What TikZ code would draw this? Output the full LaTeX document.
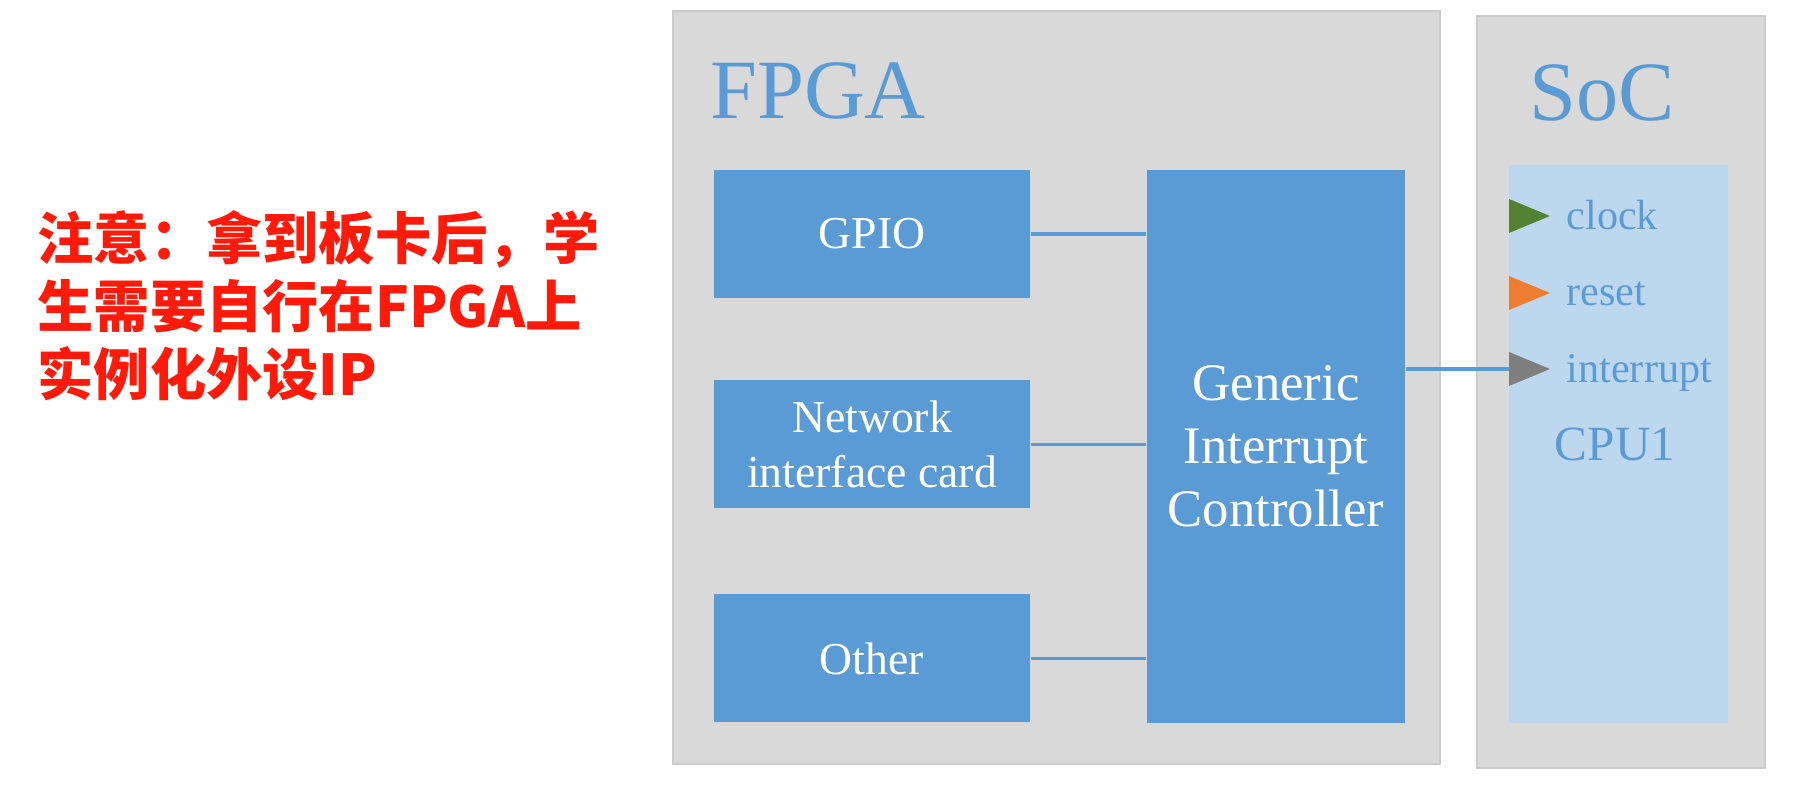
\documentclass[tikz,border=0pt]{standalone}
\usepackage{fontspec}
\setmainfont{Liberation Serif}
\newfontfamily\cjk{Noto Sans CJK SC}
\usetikzlibrary{positioning}

\definecolor{boxblue}{HTML}{5B9BD5}
\definecolor{cpublue}{HTML}{BDD7EE}
\definecolor{panelgray}{HTML}{D9D9D9}
\definecolor{paneledge}{HTML}{CBCBCB}
\definecolor{clkgreen}{HTML}{548235}
\definecolor{rstorange}{HTML}{ED7D31}
\definecolor{irqgray}{HTML}{7F7F7F}
\definecolor{notered}{HTML}{FF1A0A}

\begin{document}
\begin{tikzpicture}

\tikzset{panel/.style = {draw=paneledge, fill=panelgray, line width=0.8pt}}
\tikzset{block/.style = {fill=boxblue, text=white, align=center, minimum width=3.16cm, minimum height=1.28cm, font=\fontsize{13}{15.7}\selectfont}}
\tikzset{title/.style = {text=boxblue, anchor=base west, inner sep=0, font=\fontsize{24}{28}\selectfont}}
\tikzset{pinlabel/.style = {text=boxblue, anchor=base west, inner sep=0, font=\fontsize{12}{14}\selectfont}}
\tikzset{wire/.style = {draw=boxblue, line width=0.9pt}}

\useasboundingbox (0,0) rectangle (18.09,-7.86);

% panels
\node[panel, minimum width=7.67cm, minimum height=7.53cm] (fpga) at (10.565,-3.875) {};
\node[panel, minimum width=2.88cm, minimum height=7.52cm] (soc) at (16.21,-3.92) {};
\node[fill=cpublue, minimum width=2.19cm, minimum height=5.58cm] (cpu) at (16.185,-4.44) {};

% titles
\node[title] (fpgatitle) at (7.095,-1.19) {FPGA};
\node[title] (soctitle) at (15.29,-1.21) {SoC};

% blocks
\node[block] (gpio) at (8.72,-2.34) {GPIO};
\node[block] (nic) at (8.72,-4.445) {Network\\interface card};
\node[block] (other) at (8.72,-6.585) {Other};
\node[block, minimum width=2.58cm, minimum height=5.53cm, font=\fontsize{15}{18}\selectfont] (gic) at (12.76,-4.465) {Generic\\Interrupt\\Controller};

% pins
\coordinate (clk) at (15.09,-2.16);
\coordinate (rst) at (15.09,-2.93);
\coordinate (irq) at (15.09,-3.69);
\foreach \p/\c in {clk/clkgreen, rst/rstorange, irq/irqgray}
  \fill[\c] (\p) -- ++(0,0.17) -- ++(0.41,-0.17) -- ++(-0.41,-0.17) -- cycle;

\node[pinlabel] (clklabel) at (15.66,-2.30) {clock};
\node[pinlabel] (rstlabel) at (15.66,-3.06) {reset};
\node[pinlabel] (irqlabel) at (15.66,-3.83) {interrupt};
\node[text=boxblue, font=\fontsize{14}{17}\selectfont] (cpulabel) at (16.15,-4.44) {CPU1};

% wires
\draw[wire] (gpio.east) -- (gpio.east -| gic.west);
\draw[wire] (nic.east) -- (nic.east -| gic.west);
\draw[wire] (other.east) -- (other.east -| gic.west);
\draw[wire] (gic.east |- irq) -- (irq);

% note
\node[anchor=west, inner sep=0, text=notered, align=left, font=\cjk\bfseries\fontsize{16}{19.4}\selectfont] (note) at (0.37,-3.06) {注意：拿到板卡后，学\\生需要自行在FPGA上\\实例化外设IP};

\end{tikzpicture}
\end{document}
